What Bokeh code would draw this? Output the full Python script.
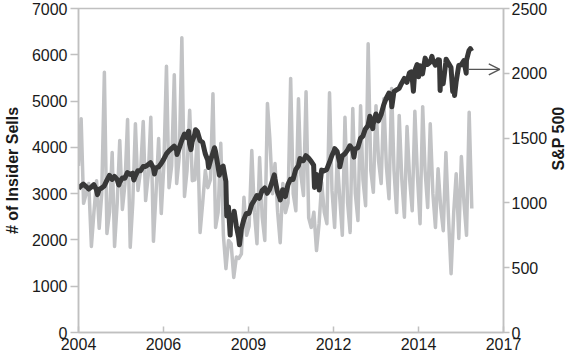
import math
import pandas as pd
from bokeh.plotting import figure
from bokeh.models import Range1d, LinearAxis, FixedTicker, Arrow, OpenHead
from bokeh.embed import file_html
from bokeh.resources import INLINE

# ---------------- data ----------------
sells_start = "2004-01-01"   # monthly, Jan 2004 .. Sep 2016
insider_sells = [
    3600, 4620, 2790, 3000, 3220, 1860, 2600, 3280, 2250, 3000, 5620, 2140,   # 2004
    2600, 3890, 1860, 2800, 4150, 2660, 3200, 4600, 1840, 2800, 4510, 3070,   # 2005
    3500, 4560, 2850, 3400, 4650, 1970, 3000, 4190, 2570, 3600, 5750, 3130,   # 2006
    3600, 5570, 3220, 3800, 6370, 2940, 3500, 4800, 3280, 3300, 4360, 2160,   # 2007
    2800, 3500, 3130, 3300, 5160, 2270, 2600, 4090, 2100, 1380, 1990, 1920,   # 2008
    1190, 1630, 1600, 1700, 2920, 2100, 2300, 3930, 2600, 1920, 3780, 2500,   # 2009
    1990, 4950, 4200, 3000, 3650, 2600, 1940, 3220, 2590, 2800, 5490, 3000,   # 2010
    2630, 5050, 3400, 2960, 5200, 2480, 2270, 2600, 1770, 2350, 3240, 2600,   # 2011
    2350, 5180, 3070, 2270, 3780, 2900, 2100, 4650, 2800, 2160, 4840, 3000,   # 2012
    2420, 4900, 3300, 2740, 6240, 3500, 3030, 4900, 3700, 3220, 5050, 3600,   # 2013
    2890, 5270, 3500, 2590, 4690, 3300, 2490, 4450, 3300, 2630, 4780, 3400,   # 2014
    2350, 4880, 3500, 2700, 4510, 3000, 2270, 3540, 2700, 2200, 3890, 2500,   # 2015
    1270, 2600, 3430, 2030, 3800, 2800, 2100, 4760, 2680,                     # 2016
]

sp_dates = [
    "2004-01-01",
    "2004-01-30", "2004-02-27", "2004-03-31", "2004-04-30", "2004-05-28", "2004-06-30",
    "2004-07-30", "2004-08-12", "2004-08-31", "2004-09-30", "2004-10-29", "2004-11-30", "2004-12-31",
    "2005-01-31", "2005-02-28", "2005-03-31", "2005-04-20", "2005-04-29", "2005-05-31", "2005-06-30",
    "2005-07-29", "2005-08-31", "2005-09-30", "2005-10-13", "2005-10-31", "2005-11-30", "2005-12-30",
    "2006-01-31", "2006-02-28", "2006-03-31", "2006-04-28", "2006-05-31", "2006-06-13", "2006-06-30",
    "2006-07-31", "2006-08-31", "2006-09-29", "2006-10-31", "2006-11-30", "2006-12-29",
    "2007-01-31", "2007-02-28", "2007-03-05", "2007-03-30", "2007-04-30", "2007-05-31", "2007-06-29",
    "2007-07-19", "2007-07-31", "2007-08-16", "2007-08-31", "2007-09-28", "2007-10-09", "2007-10-31",
    "2007-11-30", "2007-12-31",
    "2008-01-31", "2008-02-29", "2008-03-10", "2008-03-31", "2008-04-30", "2008-05-19", "2008-05-30",
    "2008-06-30", "2008-07-15", "2008-07-31", "2008-08-29", "2008-09-30", "2008-10-10", "2008-10-31",
    "2008-11-20", "2008-11-28", "2008-12-31",
    "2009-01-06", "2009-01-30", "2009-02-27", "2009-03-09", "2009-03-31", "2009-04-30", "2009-05-29",
    "2009-06-30", "2009-07-31", "2009-08-31", "2009-09-30", "2009-10-30", "2009-11-30", "2009-12-31",
    "2010-01-29", "2010-02-26", "2010-03-31", "2010-04-23", "2010-04-30", "2010-05-28", "2010-06-30",
    "2010-07-02", "2010-07-30", "2010-08-31", "2010-09-30", "2010-10-29", "2010-11-30", "2010-12-31",
    "2011-01-31", "2011-02-18", "2011-02-28", "2011-03-31", "2011-04-29", "2011-05-31", "2011-06-30",
    "2011-07-29", "2011-08-08", "2011-08-31", "2011-09-30", "2011-10-03", "2011-10-31", "2011-11-30",
    "2011-12-30",
    "2012-01-31", "2012-02-29", "2012-03-30", "2012-04-02", "2012-04-30", "2012-05-31", "2012-06-01",
    "2012-06-29", "2012-07-31", "2012-08-31", "2012-09-28", "2012-10-31", "2012-11-15", "2012-11-30",
    "2012-12-31",
    "2013-01-31", "2013-02-28", "2013-03-28", "2013-04-30", "2013-05-21", "2013-05-31", "2013-06-24",
    "2013-06-28", "2013-07-31", "2013-08-30", "2013-09-30", "2013-10-31", "2013-11-29", "2013-12-31",
    "2014-01-31", "2014-02-03", "2014-02-28", "2014-03-31", "2014-04-30", "2014-05-30", "2014-06-30",
    "2014-07-31", "2014-08-29", "2014-09-18", "2014-09-30", "2014-10-15", "2014-10-31", "2014-11-28",
    "2014-12-16", "2014-12-31",
    "2015-01-30", "2015-02-27", "2015-03-02", "2015-03-31", "2015-04-30", "2015-05-21", "2015-05-29",
    "2015-06-30", "2015-07-31", "2015-08-17", "2015-08-25", "2015-08-31", "2015-09-30", "2015-10-30",
    "2015-11-03", "2015-11-30", "2015-12-31",
    "2016-01-20", "2016-01-29", "2016-02-11", "2016-02-29", "2016-03-31", "2016-04-29", "2016-05-31",
    "2016-06-27", "2016-06-30", "2016-07-29", "2016-08-15", "2016-08-31",
]
sp_values = [
    1112,
    1131, 1145, 1126, 1107, 1121, 1141,
    1102, 1064, 1104, 1115, 1130, 1174, 1212,
    1181, 1204, 1181, 1138, 1157, 1192, 1191,
    1234, 1220, 1229, 1177, 1207, 1249, 1248,
    1280, 1281, 1295, 1311, 1270, 1223, 1270,
    1277, 1304, 1336, 1378, 1401, 1418,
    1438, 1407, 1374, 1421, 1482, 1531, 1503,
    1553, 1455, 1411, 1474, 1527, 1565, 1549,
    1481, 1468,
    1379, 1331, 1273, 1323, 1386, 1426, 1400,
    1280, 1214, 1267, 1283, 1166, 899, 969,
    752, 896, 903,
    935, 826, 735, 677, 798, 873, 919,
    919, 987, 1021, 1057, 1036, 1096, 1115,
    1074, 1104, 1169, 1217, 1187, 1089, 1031,
    1022, 1102, 1049, 1141, 1183, 1181, 1258,
    1286, 1343, 1327, 1326, 1364, 1345, 1321,
    1292, 1119, 1219, 1131, 1099, 1253, 1247,
    1258,
    1312, 1366, 1408, 1419, 1398, 1310, 1278,
    1362, 1379, 1407, 1441, 1412, 1353, 1416,
    1426,
    1498, 1515, 1569, 1598, 1669, 1631, 1573,
    1606, 1686, 1633, 1682, 1757, 1806, 1848,
    1783, 1741, 1859, 1872, 1884, 1924, 1960,
    1931, 2003, 2011, 1972, 1862, 2018, 2068,
    1973, 2059,
    1995, 2105, 2117, 2068, 2086, 2131, 2107,
    2063, 2104, 2102, 1867, 1972, 1920, 2079,
    2109, 2080, 2044,
    1859, 1940, 1829, 1932, 2060, 2065, 2097,
    2001, 2099, 2174, 2190, 2171,
]

x_axis_start = "2004-01-01"
x_tick_step_days = 1000
x_tick_labels = ["2004", "2006", "2009", "2012", "2014", "2017"]
left_ticks = [0, 1000, 2000, 3000, 4000, 5000, 6000, 7000]
right_ticks = [0, 500, 1000, 1500, 2000, 2500]
arrow_level = 2030
right_title = "S&P 500"
left_title = "# of Insider Sells"


def frac_year(ts):
    ts = pd.Timestamp(ts)
    a = pd.Timestamp(year=ts.year, month=1, day=1)
    b = pd.Timestamp(year=ts.year + 1, month=1, day=1)
    return ts.year + (ts - a) / (b - a)


sells_x = [frac_year(d) for d in pd.date_range(sells_start, periods=len(insider_sells), freq="MS")]
sp_x = [frac_year(d) for d in sp_dates]
t0 = pd.Timestamp(x_axis_start)
x_ticks = [frac_year(t0 + pd.Timedelta(days=k * x_tick_step_days)) for k in range(len(x_tick_labels))]
sp_mid = (right_ticks[0] + right_ticks[-1]) / 2

FONT = "Liberation Sans"
AX = "#c0c0c0"
TXT = "#1a1a1a"

p = figure(width=578, height=352, output_backend="svg", toolbar_location=None,
           x_range=Range1d(x_ticks[0], x_ticks[-1]), y_range=Range1d(0, 7000),
           min_border_left=0, min_border_right=0, min_border_top=8, min_border_bottom=0)
p.extra_y_ranges = {"sp": Range1d(0, 2500)}
p.xgrid.visible = False
p.ygrid.visible = False
p.outline_line_color = AX
p.outline_line_width = 1.5
p.background_fill_color = "white"
p.border_fill_color = "white"

p.line(sells_x, insider_sells, line_color="#c2c3c5", line_width=3.5, line_join="round")
p.line(sp_x, sp_values, line_color="#383838", line_width=5, line_join="round", y_range_name="sp")

p.add_layout(Arrow(x_start=sp_x[-1] - 0.1, y_start=arrow_level, x_end=x_ticks[-1] - 0.12, y_end=arrow_level,
                   y_range_name="sp", line_color="#555555", line_width=1.3,
                   end=OpenHead(size=11, line_color="#555555", line_width=1.3)))


def style(ax, size="16px"):
    ax.axis_line_color = AX
    ax.axis_line_width = 1.5
    ax.major_tick_line_color = AX
    ax.major_tick_line_width = 1.5
    ax.minor_tick_line_color = None
    ax.major_label_text_font = FONT
    ax.major_label_text_font_size = size
    ax.major_label_text_color = TXT
    ax.axis_label_text_font = FONT
    ax.axis_label_text_font_size = "16px"
    ax.axis_label_text_font_style = "bold"
    ax.axis_label_text_color = TXT


xa = p.xaxis[0]
style(xa)
xa.ticker = FixedTicker(ticks=x_ticks)
xa.major_label_overrides = {t: l for t, l in zip(x_ticks, x_tick_labels)}
xa.major_tick_in = 6
xa.major_tick_out = 0
xa.major_label_standoff = 5

ya = p.yaxis[0]
style(ya)
ya.ticker = FixedTicker(ticks=left_ticks)
ya.major_tick_in = 0
ya.major_tick_out = 8
ya.major_label_standoff = 3
ya.axis_label = left_title
ya.axis_label_standoff = 8

ra = LinearAxis(y_range_name="sp")
style(ra)
ra.ticker = FixedTicker(ticks=right_ticks)
ra.major_tick_in = 0
ra.major_tick_out = 6
ra.major_label_standoff = 2
p.add_layout(ra, "right")

# right-hand title drawn as the single tick label of a bare axis, reading bottom-to-top
rt = LinearAxis(y_range_name="sp")
rt.ticker = FixedTicker(ticks=[sp_mid])
rt.major_label_overrides = {sp_mid: right_title}
rt.major_label_orientation = math.pi / 2
rt.axis_line_color = None
rt.major_tick_line_color = None
rt.minor_tick_line_color = None
rt.major_tick_in = 0
rt.major_tick_out = 0
rt.major_label_standoff = 8
rt.major_label_text_font = FONT
rt.major_label_text_font_size = "16px"
rt.major_label_text_font_style = "bold"
rt.major_label_text_color = TXT
p.add_layout(rt, "right")

open("out.html", "w").write(file_html(p, INLINE))
